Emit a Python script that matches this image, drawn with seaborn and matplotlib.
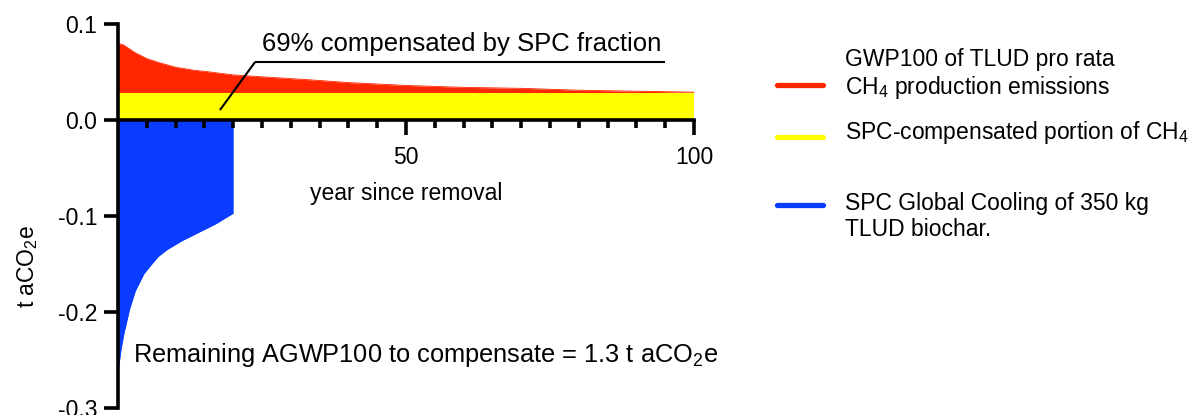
import numpy as np
import pandas as pd
import seaborn as sns
import matplotlib.pyplot as plt
from matplotlib.lines import Line2D
from matplotlib.ticker import MultipleLocator, FixedLocator, FormatStrFormatter

# red: GWP100 of TLUD CH4 production emissions (top of stacked area)
red_years = [0, 1, 2, 3, 5, 7, 10, 13, 16, 20, 25, 33, 40, 50, 60, 70, 80, 90, 100]
red_values = [0.080, 0.078, 0.074, 0.070, 0.064, 0.060, 0.055, 0.052, 0.050, 0.047,
              0.045, 0.042, 0.039, 0.036, 0.034, 0.033, 0.031, 0.030, 0.029]

# yellow: SPC-compensated portion of CH4
yellow_years = [0, 100]
yellow_values = [0.0285, 0.0285]

# blue: SPC global cooling of 350 kg TLUD biochar
blue_years = [0, 0.5, 1, 2, 3, 4.5, 6, 7, 8.5, 11, 14, 17, 20]
blue_values = [-0.262, -0.240, -0.223, -0.197, -0.178, -0.160, -0.149, -0.142, -0.135,
               -0.126, -0.117, -0.108, -0.097]

RED = "#FF2600"
YELLOW = "#FFFF00"
BLUE = "#0A3CFF"

sns.set_theme(style="ticks")
plt.rcParams['font.family'] = ['Liberation Sans', 'DejaVu Sans']
plt.rcParams['mathtext.fontset'] = 'custom'
plt.rcParams['mathtext.rm'] = 'Liberation Sans'
plt.rcParams['mathtext.it'] = 'Liberation Sans'
plt.rcParams['axes.unicode_minus'] = False
plt.rcParams['text.color'] = 'black'
plt.rcParams['axes.labelcolor'] = 'black'
plt.rcParams['xtick.color'] = 'black'
plt.rcParams['ytick.color'] = 'black'
plt.rcParams['axes.edgecolor'] = 'black'

red_df = pd.DataFrame({"year": red_years, "value": red_values})
yellow_df = pd.DataFrame({"year": yellow_years, "value": yellow_values})
blue_df = pd.DataFrame({"year": blue_years, "value": blue_values})

fig = plt.figure(figsize=(11.92, 4.15), dpi=100)
ax = fig.add_axes([118 / 1192, 7 / 415, 576 / 1192, 384 / 415])

base = np.interp(red_df["year"], yellow_df["year"], yellow_df["value"])
ax.fill_between(red_df["year"], base, red_df["value"], color=RED, lw=0)
ax.fill_between(yellow_df["year"], 0, yellow_df["value"], color=YELLOW, lw=0)
ax.fill_between(blue_df["year"], 0, blue_df["value"], color=BLUE, lw=0)
sns.lineplot(data=red_df, x="year", y="value", color=RED, lw=0.6, ax=ax)
sns.lineplot(data=blue_df, x="year", y="value", color=BLUE, lw=0.6, ax=ax)

ax.set_xlim(0, 100)
ax.set_ylim(-0.3, 0.1)
ax.set_axisbelow(False)

for s in ["top", "right"]:
    ax.spines[s].set_visible(False)
ax.spines["bottom"].set_position(("data", 0))
ax.spines["left"].set_linewidth(2.6)
ax.spines["bottom"].set_linewidth(2.6)
ax.spines["left"].set_capstyle("projecting")

ax.xaxis.set_major_locator(FixedLocator([50, 100]))
ax.xaxis.set_minor_locator(FixedLocator([v for v in range(5, 100, 5) if v != 50]))
ax.yaxis.set_major_locator(MultipleLocator(0.1))
ax.yaxis.set_major_formatter(FormatStrFormatter('%.1f'))
ax.tick_params(axis="x", which="major", length=11, width=2.6, labelsize=16.5, pad=8)
ax.tick_params(axis="x", which="minor", length=6, width=2.6)
ax.tick_params(axis="y", which="major", length=10, width=2.6, labelsize=16.5, pad=5)

ax.set_xlabel("")
ax.set_ylabel("t aCO$_\\mathregular{2}$e", fontsize=16.5)
ax.yaxis.set_label_coords(-0.135, 0.37)

ax.text(50, -0.077, "year since removal", fontsize=16.5, ha="center", va="center")

# annotations
ax.plot([17.7, 23.8], [0.0104, 0.0604], color="black", lw=1.5, solid_capstyle="butt")
ax.plot([23.8, 95], [0.0604, 0.0604], color="black", lw=1.5, solid_capstyle="butt")
ax.text(25, 0.079, "69% compensated by SPC fraction", fontsize=18.5, ha="left", va="center")
ax.text(2.6, -0.245, "Remaining AGWP100 to compensate = 1.3 t aCO$_\\mathregular{2}$e",
        fontsize=18.3, ha="left", va="center")

# legend
W, H = 1192, 415
entries = [
    (RED, 85, 74.5, "GWP100 of TLUD pro rata\nCH$_\\mathregular{4}$ production emissions"),
    (YELLOW, 137, 132, "SPC-compensated portion of CH$_\\mathregular{4}$"),
    (BLUE, 205, 216.5, "SPC Global Cooling of 350 kg\nTLUD biochar."),
]
for color, ly, ty, label in entries:
    fig.add_artist(Line2D([777 / W, 823 / W], [1 - ly / H, 1 - ly / H], color=color,
                          lw=3.8, solid_capstyle="round", transform=fig.transFigure))
    fig.text(845 / W, 1 - ty / H, label, fontsize=16.5, ha="left", va="center", linespacing=1.15)

fig.savefig("out.png", dpi=100)
